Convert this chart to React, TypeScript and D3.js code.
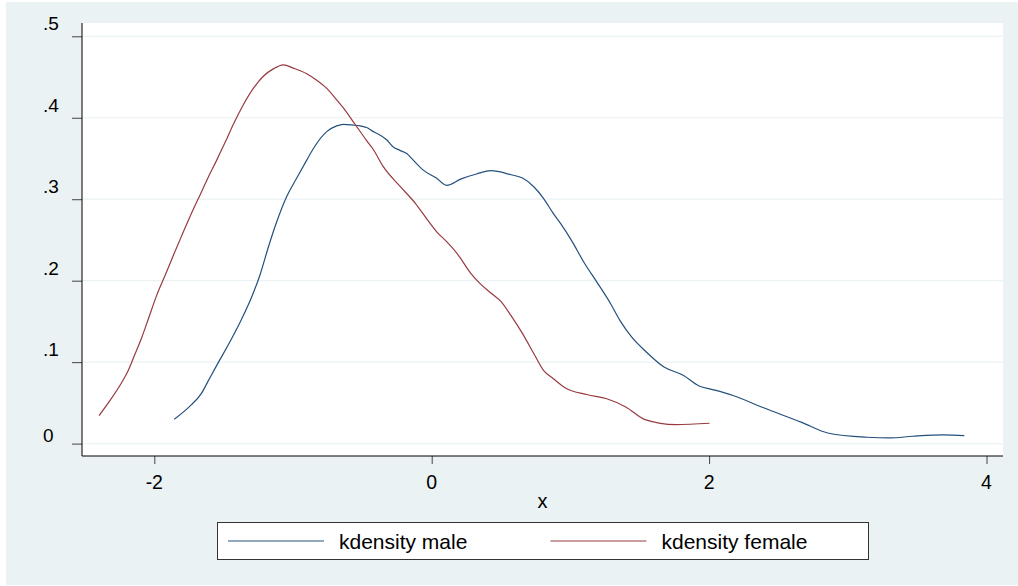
import React, { useEffect, useRef } from 'react';
import * as d3 from 'd3';

// kdensity estimates
const maleX = [-1.856, -1.743, -1.659, -1.611, -1.55, -1.442, -1.37, -1.298, -1.238, -1.178, -1.118, -1.046, -0.973, -0.901, -0.854, -0.757, -0.685, -0.637, -0.565, -0.517, -0.469, -0.421, -0.397, -0.325, -0.277, -0.229, -0.18, -0.133, -0.063, 0.034, 0.108, 0.213, 0.323, 0.428, 0.572, 0.655, 0.738, 0.806, 0.875, 0.93, 1.013, 1.096, 1.192, 1.289, 1.358, 1.441, 1.538, 1.675, 1.813, 1.924, 2.034, 2.172, 2.393, 2.668, 2.862, 3.138, 3.304, 3.469, 3.69, 3.84];
const maleY = [0.03, 0.046, 0.062, 0.077, 0.096, 0.129, 0.153, 0.18, 0.207, 0.241, 0.272, 0.303, 0.326, 0.348, 0.362, 0.383, 0.39, 0.392, 0.391, 0.39, 0.388, 0.383, 0.381, 0.373, 0.364, 0.36, 0.356, 0.348, 0.336, 0.326, 0.317, 0.325, 0.331, 0.335, 0.33, 0.326, 0.315, 0.301, 0.283, 0.27, 0.248, 0.223, 0.198, 0.172, 0.151, 0.131, 0.114, 0.094, 0.084, 0.071, 0.066, 0.059, 0.044, 0.026, 0.0127, 0.0078, 0.007, 0.009, 0.0107, 0.0097];

const femaleX = [-2.398, -2.319, -2.235, -2.187, -2.139, -2.091, -2.043, -1.983, -1.911, -1.863, -1.803, -1.731, -1.671, -1.611, -1.55, -1.514, -1.478, -1.43, -1.358, -1.286, -1.214, -1.142, -1.07, -0.998, -0.901, -0.829, -0.757, -0.685, -0.637, -0.565, -0.469, -0.421, -0.349, -0.229, -0.118, -0.036, 0.036, 0.108, 0.185, 0.282, 0.351, 0.433, 0.502, 0.572, 0.655, 0.738, 0.806, 0.875, 0.958, 1.123, 1.262, 1.399, 1.538, 1.759, 2.003];
const femaleY = [0.0344, 0.053, 0.075, 0.09, 0.11, 0.13, 0.153, 0.182, 0.211, 0.231, 0.255, 0.283, 0.305, 0.327, 0.348, 0.361, 0.374, 0.392, 0.416, 0.436, 0.451, 0.46, 0.465, 0.461, 0.454, 0.446, 0.436, 0.422, 0.412, 0.395, 0.372, 0.361, 0.34, 0.316, 0.295, 0.276, 0.26, 0.248, 0.233, 0.209, 0.196, 0.184, 0.174, 0.157, 0.135, 0.11, 0.09, 0.08, 0.069, 0.06, 0.055, 0.045, 0.0295, 0.0234, 0.025];

const xTicks = [-2, 0, 2, 4];
const yTicks = [0, 0.1, 0.2, 0.3, 0.4, 0.5];
const yTickLabels = ['0', '.1', '.2', '.3', '.4', '.5'];
const seriesNames = ['kdensity male', 'kdensity female'];

const App = () => {
  const svgRef = useRef(null);
  const width = 1018, height = 586;
  const plot = { left: 82, right: 1003, top: 23, bottom: 456 };
  const font = '"Liberation Sans", Arial, Helvetica, sans-serif';
  const colors = ['#24507c', '#983a40'];
  const bg = '#eaf2f3';

  useEffect(() => {
    const svg = d3.select(svgRef.current);
    svg.selectAll('*').remove();

    const xScale = d3.scaleLinear().domain([-2, 4]).range([154.3, 986.5]);
    const yScale = d3.scaleLinear().domain([0, 0.5]).range([443.6, 36.3]);

    // outer graph region + plot region
    svg.append('rect').attr('x', 6).attr('y', 2).attr('width', width - 6).attr('height', 583).attr('fill', bg);
    svg.append('rect')
      .attr('x', plot.left).attr('y', plot.top)
      .attr('width', plot.right - plot.left).attr('height', plot.bottom - plot.top)
      .attr('fill', '#fff');

    // gridlines
    svg.append('g').selectAll('line').data(yTicks).enter().append('line')
      .attr('x1', plot.left).attr('x2', plot.right)
      .attr('y1', d => yScale(d)).attr('y2', d => yScale(d))
      .attr('stroke', bg).attr('stroke-width', 1.2);

    // y axis
    const yAxis = d3.axisLeft(yScale).tickValues(yTicks).tickSize(10).tickFormat(() => '');
    const gy = svg.append('g').attr('transform', `translate(${plot.left},0)`).call(yAxis);
    gy.select('.domain').remove();
    gy.selectAll('line').attr('stroke', '#444');
    svg.append('line')
      .attr('x1', plot.left).attr('x2', plot.left).attr('y1', plot.top).attr('y2', plot.bottom)
      .attr('stroke', '#000').attr('stroke-width', 1);
    // bottom label sits lower than the rest, as in the original
    svg.append('g').selectAll('text').data(yTicks).enter().append('text')
      .attr('x', 43).attr('y', d => yScale(d) - (d === 0 ? 1.5 : 6))
      .attr('font-family', font).attr('font-size', 19).attr('fill', '#000')
      .text((d, i) => yTickLabels[i]);

    // x axis
    const xAxis = d3.axisBottom(xScale).tickValues(xTicks).tickSize(8).tickFormat(() => '');
    const gx = svg.append('g').attr('transform', `translate(0,${plot.bottom})`).call(xAxis);
    gx.select('.domain').remove();
    gx.selectAll('line').attr('stroke', '#444');
    svg.append('line')
      .attr('x1', plot.left).attr('x2', plot.right).attr('y1', plot.bottom).attr('y2', plot.bottom)
      .attr('stroke', '#000').attr('stroke-width', 1);
    svg.append('g').selectAll('text').data(xTicks).enter().append('text')
      .attr('x', d => xScale(d)).attr('y', 489)
      .attr('text-anchor', 'middle')
      .attr('font-family', font).attr('font-size', 19.5).attr('fill', '#000')
      .text(d => String(d));
    svg.append('text')
      .attr('x', (plot.left + plot.right) / 2).attr('y', 507.5)
      .attr('text-anchor', 'middle')
      .attr('font-family', font).attr('font-size', 20).attr('fill', '#000')
      .text('x');

    // the two density curves
    const line = d3.line().x(d => xScale(d[0])).y(d => yScale(d[1])).curve(d3.curveMonotoneX);
    const male = maleX.map((v, i) => [v, maleY[i]]);
    const female = femaleX.map((v, i) => [v, femaleY[i]]);
    [male, female].forEach((pts, i) => {
      svg.append('path')
        .attr('d', line(pts))
        .attr('fill', 'none')
        .attr('stroke', colors[i])
        .attr('stroke-width', 1.2);
    });

    // legend
    const lg = svg.append('g');
    lg.append('rect')
      .attr('x', 217.5).attr('y', 522.5).attr('width', 651).attr('height', 37)
      .attr('fill', '#fff').attr('stroke', '#333').attr('stroke-width', 1);
    const keyX = [228, 550.5];
    seriesNames.forEach((name, i) => {
      lg.append('line')
        .attr('x1', keyX[i]).attr('x2', keyX[i] + 96)
        .attr('y1', 541).attr('y2', 541)
        .attr('stroke', colors[i]).attr('stroke-width', 1.1);
      lg.append('text')
        .attr('x', keyX[i] + 111).attr('y', 549.3)
        .attr('font-family', font).attr('font-size', 21).attr('fill', '#000')
        .text(name);
    });
  }, []);

  return (
    <svg
      ref={svgRef}
      width={width}
      height={height}
      style={{ position: 'absolute', left: 0, top: 0, background: '#fff' }}
    />
  );
};

export default App;
